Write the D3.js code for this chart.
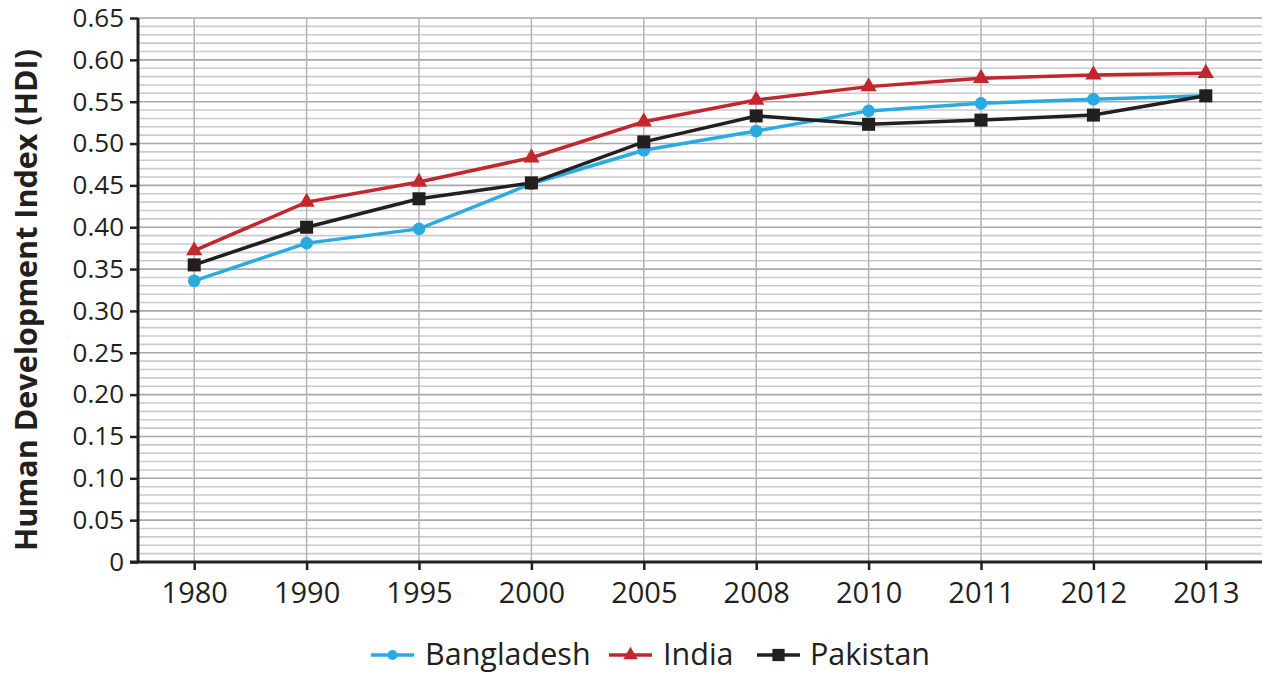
<!DOCTYPE html>
<html><head><meta charset="utf-8">
<script src="https://cdn.jsdelivr.net/npm/d3@7"></script>
<style>body{margin:0;background:#fff;} svg{display:block;font-family:"Open Sans",sans-serif;}</style>
</head><body>
<svg id="c" width="1265" height="674"></svg>
<script>
const years = ["1980","1990","1995","2000","2005","2008","2010","2011","2012","2013"];
const bangladesh = [0.336,0.381,0.398,0.452,0.492,0.515,0.539,0.548,0.553,0.557];
const india = [0.372,0.430,0.454,0.483,0.526,0.552,0.568,0.578,0.582,0.584];
const pakistan = [0.355,0.400,0.434,0.453,0.502,0.533,0.523,0.528,0.534,0.557];
const yTicks = [0,0.05,0.10,0.15,0.20,0.25,0.30,0.35,0.40,0.45,0.50,0.55,0.60,0.65];
const seriesNames = ["Bangladesh","India","Pakistan"];

const svg = d3.select("#c");
const L=138,R=1262,T=18,B=562;
const x = d3.scalePoint().domain(years).range([L,R]).padding(0.5);
const y = d3.scaleLinear().domain([0,0.65]).range([B,T]);

// minor grid
const minor = d3.range(0,66).map(i=>i/100);
svg.append("g").selectAll("line").data(minor).join("line")
  .attr("x1",L).attr("x2",R).attr("y1",d=>y(d)).attr("y2",d=>y(d))
  .attr("stroke",d=>Math.round(d*100)%5===0?"#a8a8aa":"#cbcbcd").attr("stroke-width",1.6);
// vertical grid
svg.append("g").selectAll("line").data(years).join("line")
  .attr("x1",d=>x(d)).attr("x2",d=>x(d)).attr("y1",T).attr("y2",B)
  .attr("stroke","#b4b4b6").attr("stroke-width",1.5);

// axes
const yAxis = svg.append("g").attr("transform",`translate(${L},0)`)
  .call(d3.axisLeft(y).tickValues(yTicks).tickSize(8).tickPadding(6)
    .tickFormat(d=>d===0?"0":d3.format(".2f")(d)));
const xAxis = svg.append("g").attr("transform",`translate(0,${B})`)
  .call(d3.axisBottom(x).tickSize(8).tickPadding(12).tickSizeOuter(0));
[yAxis,xAxis].forEach(a=>{
  a.select(".domain").attr("stroke","#231f20").attr("stroke-width",3);
  a.selectAll(".tick line").attr("stroke","#231f20").attr("stroke-width",2.5);
  a.selectAll("text").attr("fill","#231f20").style("font-family","'Open Sans',sans-serif");
});
yAxis.selectAll("text").style("font-size","26px");
xAxis.selectAll("text").style("font-size","29px");
yAxis.select(".domain").attr("d",`M-0,${T}V${B}`);
xAxis.select(".domain").attr("d",`M${L-8},0H${R}`);
xAxis.selectAll("text").attr("dy","0.71em");

svg.append("text").attr("transform",`translate(37,${(T+B)/2+10}) rotate(-90)`)
  .attr("text-anchor","middle").attr("font-weight","bold").attr("font-size","30.5px")
  .attr("fill","#231f20").text("Human Development Index (HDI)");

const colors = ["#29abe2","#c1272d","#231f20"];
const data = [bangladesh,india,pakistan];
const shapes = [d3.symbolCircle,d3.symbolTriangle,d3.symbolSquare];
const sizes = [125,115,170];
const line = d3.line().x((d,i)=>x(years[i])).y(d=>y(d));
data.forEach((s,k)=>{
  svg.append("path").datum(s).attr("d",line).attr("fill","none")
    .attr("stroke",colors[k]).attr("stroke-width",3.5);
  svg.append("g").selectAll("path").data(s).join("path")
    .attr("transform",(d,i)=>`translate(${x(years[i])},${y(d)})`)
    .attr("d",d3.symbol().type(shapes[k]).size(sizes[k])).attr("fill",colors[k]);
});

// legend
const leg = [{x:371,t:425},{x:609,t:663},{x:757,t:810}];
leg.forEach((l,k)=>{
  const g = svg.append("g");
  g.append("line").attr("x1",l.x).attr("x2",l.x+43).attr("y1",655).attr("y2",655)
    .attr("stroke",colors[k]).attr("stroke-width",3.5);
  g.append("path").attr("transform",`translate(${l.x+21.5},655)`)
    .attr("d",d3.symbol().type(shapes[k]).size([80,90,150][k])).attr("fill",colors[k]);
  g.append("text").attr("x",l.t).attr("y",665)
    .attr("font-size","30.5px").attr("fill","#231f20").text(seriesNames[k]);
});
</script>
</body></html>
